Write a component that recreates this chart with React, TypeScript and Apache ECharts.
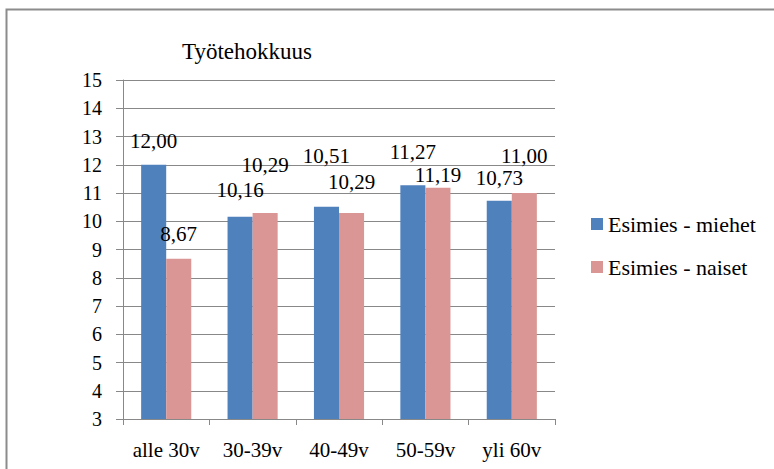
import React, { useEffect, useRef } from "react";
import * as echarts from "echarts";

const categories = ["alle 30v", "30-39v", "40-49v", "50-59v", "yli 60v"];
const miehet = [12.0, 10.16, 10.51, 11.27, 10.73];
const naiset = [8.67, 10.29, 10.29, 11.19, 11.0];
const seriesNames = ["Esimies - miehet", "Esimies - naiset"];
const titleText = "Työtehokkuus";

// how far each value label sits above its bar (px), as placed in the original
const liftMiehet = [14, 17, 41, 23, 13];
const liftNaiset = [15, 38, 21, 3, 27];

const FONT = "'Liberation Serif', 'Times New Roman', serif";

export default function App() {
  const ref = useRef<HTMLDivElement>(null);
  useEffect(() => {
    if (!ref.current) return;
    const chart = echarts.init(ref.current, undefined, { renderer: "svg" });
    const fmt = (p: any) => Number(p.value).toFixed(2).replace(".", ",");
    const baseLabel = {
      show: true,
      position: "top",
      formatter: fmt,
      fontFamily: FONT,
      fontSize: 21,
      lineHeight: 20,
      color: "#000",
    };
    const withLift = (vals: number[], lifts: number[]) =>
      vals.map((v, i) => ({ value: v, label: { distance: lifts[i] } }));
    chart.setOption({
      animation: false,
      backgroundColor: "#fff",
      title: {
        text: titleText,
        left: 242,
        top: 35,
        textAlign: "center",
        textStyle: { fontFamily: FONT, fontSize: 23, fontWeight: "normal", color: "#000" },
      },
      legend: {
        orient: "vertical",
        left: 586,
        top: 208,
        itemWidth: 12,
        itemHeight: 12,
        itemGap: 21,
        icon: "rect",
        textStyle: { fontFamily: FONT, fontSize: 22, color: "#000" },
        data: seriesNames,
      },
      grid: { left: 123, right: 219, top: 80, bottom: 50, containLabel: false },
      xAxis: {
        type: "category",
        data: categories,
        axisLine: { show: true, lineStyle: { color: "#888", width: 1 } },
        axisTick: { show: true, length: 6, lineStyle: { color: "#888" } },
        axisLabel: { interval: 0, fontFamily: FONT, fontSize: 21, color: "#000", margin: 20 },
      },
      yAxis: {
        type: "value",
        min: 3,
        max: 15,
        interval: 1,
        axisLine: { show: true, lineStyle: { color: "#888", width: 1 } },
        axisTick: { show: true, length: 7, lineStyle: { color: "#888" } },
        axisLabel: { fontFamily: FONT, fontSize: 20, color: "#000", margin: 21 },
        splitLine: { show: true, lineStyle: { color: "#888", width: 1 } },
      },
      graphic: [
        {
          type: "rect",
          shape: { x: 6.5, y: 9.5, width: 800, height: 500 },
          style: { fill: "none", stroke: "#8c8c8c", lineWidth: 2 },
          silent: true,
        },
      ],
      series: [
        {
          name: seriesNames[0],
          type: "bar",
          data: withLift(miehet, liftMiehet),
          barGap: "0%",
          barCategoryGap: "42%",
          itemStyle: { color: "#4F81BD" },
          label: baseLabel,
        },
        {
          name: seriesNames[1],
          type: "bar",
          data: withLift(naiset, liftNaiset),
          itemStyle: { color: "#D99694" },
          label: baseLabel,
        },
      ],
    });
    return () => chart.dispose();
  }, []);
  return (
    <div
      ref={ref}
      style={{ position: "fixed", left: 0, top: 0, width: 774, height: 469 }}
    />
  );
}
